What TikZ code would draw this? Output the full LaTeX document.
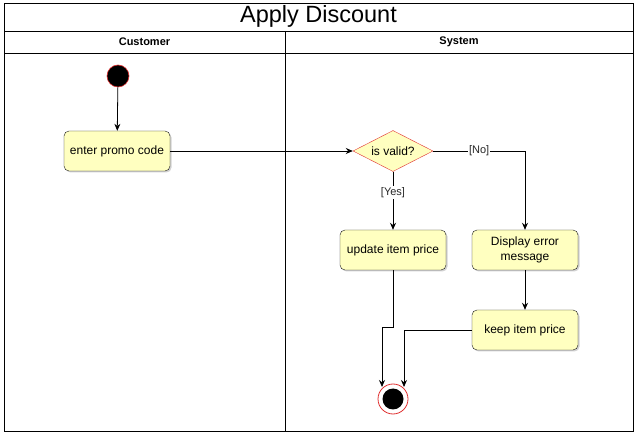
\documentclass[tikz,border=0pt]{standalone}
\usepackage{fontspec}
\setmainfont{Liberation Sans}
\usetikzlibrary{shapes.geometric,arrows.meta,shadows}
\definecolor{actfill}{HTML}{FFFFC0}
\definecolor{redline}{HTML}{E03030}
\tikzset{
  lane/.style={draw=black, line width=0.8pt},
  action/.style={draw=black!90, fill=actfill, rounded corners=5pt, minimum width=106pt, minimum height=40pt, align=center, font=\fontsize{12}{15}\selectfont, drop shadow={shadow xshift=1.5pt, shadow yshift=-1.5pt, opacity=0.35}},
  decision/.style={diamond, aspect=2, draw=redline, fill=actfill, minimum width=80pt, minimum height=41pt, inner sep=0pt, font=\fontsize{12}{15}\selectfont},
  flow/.style={draw=black, line width=0.8pt, -{Stealth[length=7pt,width=6pt]}},
  guard/.style={fill=white, inner sep=1pt, font=\fontsize{11}{13}\selectfont, text=black!85},
  header/.style={font=\bfseries\fontsize{11}{13}\selectfont},
}
\begin{document}
\begin{tikzpicture}[x=1pt,y=-1pt]
\useasboundingbox (0,0) rectangle (635,438);
\fill[white] (0,0) rectangle (635,438);
% swimlane frame
\draw[lane] (4,3) rectangle (633,431);
\draw[lane] (4,31) -- (633,31);
\draw[lane] (4,53) -- (633,53);
\draw[lane] (285,31) -- (285,431);
\node[font=\fontsize{23.5}{26}\selectfont] (title) at (318.5,16) {Apply Discount};
\node[header] (h1) at (144.5,42) {Customer};
\node[header] (h2) at (459,42) {System};
% nodes
\node[circle, fill=black, draw=redline, line width=0.6pt, minimum size=22pt, inner sep=0pt] (start) at (118,76) {};
\node[action] (enter) at (117,151) {enter promo code};
\node[decision] (valid) at (393,151) {is valid?};
\node[action] (update) at (393,250) {update item price};
\node[action] (error) at (525,250) {Display error\\message};
\node[action] (keep) at (525,330) {keep item price};
\node[circle, draw=redline, fill=white, line width=0.8pt, minimum size=30pt, inner sep=0pt] (end) at (393,399) {};
\node[circle, fill=black, minimum size=21pt, inner sep=0pt] (endin) at (end.center) {};
\coordinate (b1) at (393,327);
\coordinate (c1) at (382,327);
\coordinate (e1) at (382,387);
\coordinate (c2) at (404,330);
\coordinate (e2) at (404,387);
% connectors
\draw[flow] (start) -- (enter);
\draw[flow] (enter) -- (valid);
\draw[flow] (valid) -- node[guard, pos=0.36] {[Yes]} (update);
\draw[flow] (valid.east) -- node[guard, pos=0.5] {[No]} (error.north |- valid.east) -- (error.north);
\draw[flow] (error) -- (keep);
\draw[flow] (update.south) -- (b1) -- (c1) -- (e1);
\draw[flow] (keep.west) -- (c2) -- (e2);
\end{tikzpicture}
\end{document}
